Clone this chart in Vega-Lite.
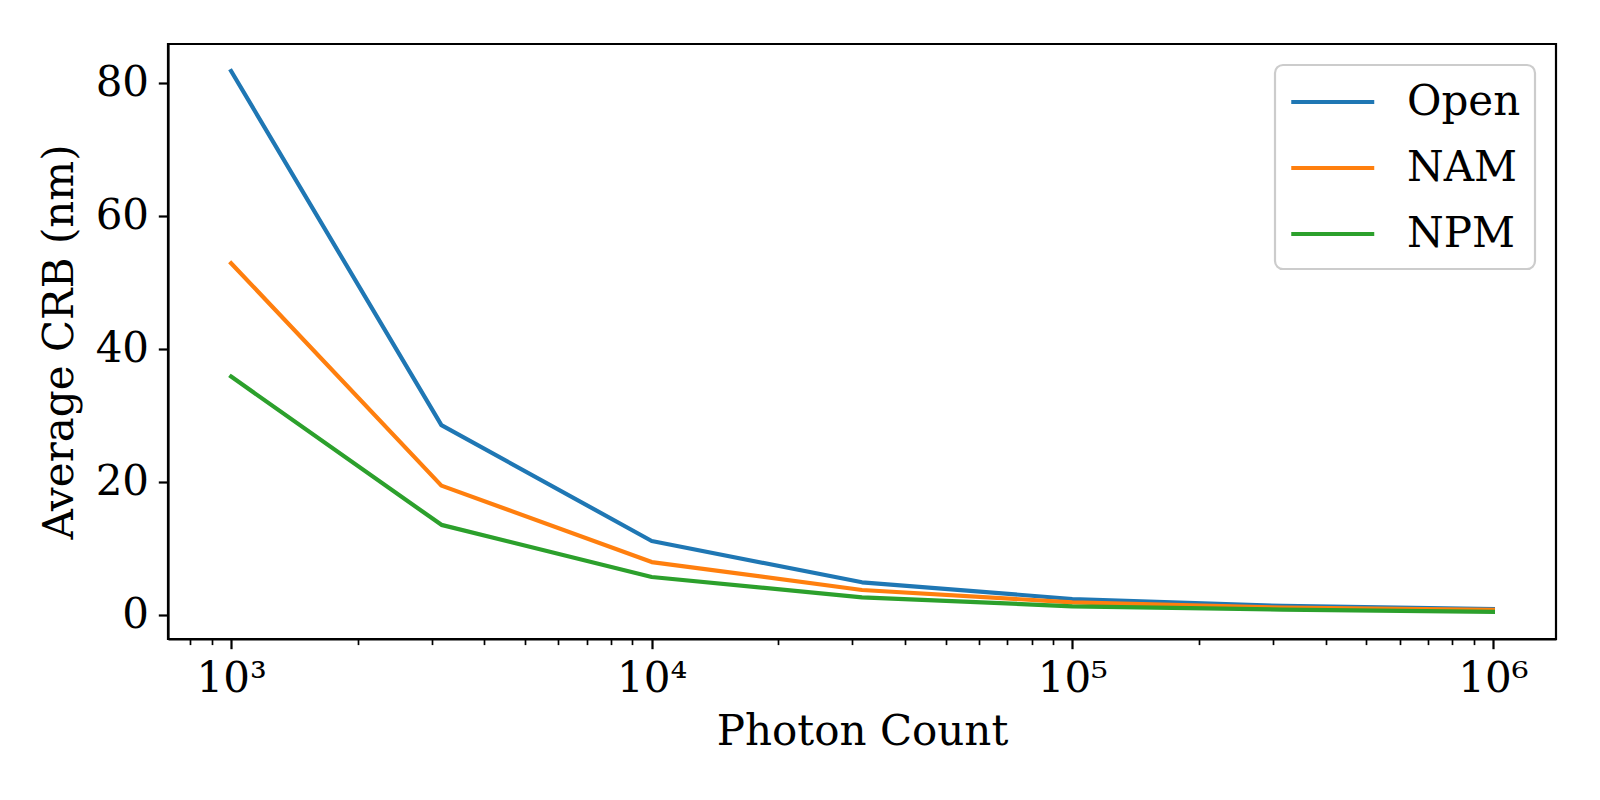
{
  "$schema": "https://vega.github.io/schema/vega-lite/v6.json",
  "description": "Average CRB against photon count for three methods",
  "autosize": "none",
  "width": 1388,
  "height": 595,
  "padding": {"left": 168, "top": 44, "right": 44, "bottom": 161},
  "background": "white",
  "data": {
    "values": [
      {"photons": 1000, "method": "Open", "crb": 81.75},
      {"photons": 3162.28, "method": "Open", "crb": 28.5},
      {"photons": 10000, "method": "Open", "crb": 11.07},
      {"photons": 31622.8, "method": "Open", "crb": 4.86},
      {"photons": 100000, "method": "Open", "crb": 2.35},
      {"photons": 316228, "method": "Open", "crb": 1.3},
      {"photons": 1000000, "method": "Open", "crb": 0.85},
      {"photons": 1000, "method": "NAM", "crb": 52.85},
      {"photons": 3162.28, "method": "NAM", "crb": 19.4},
      {"photons": 10000, "method": "NAM", "crb": 7.9},
      {"photons": 31622.8, "method": "NAM", "crb": 3.7},
      {"photons": 100000, "method": "NAM", "crb": 1.85},
      {"photons": 316228, "method": "NAM", "crb": 1.05},
      {"photons": 1000000, "method": "NAM", "crb": 0.7},
      {"photons": 1000, "method": "NPM", "crb": 35.8},
      {"photons": 3162.28, "method": "NPM", "crb": 13.5},
      {"photons": 10000, "method": "NPM", "crb": 5.66},
      {"photons": 31622.8, "method": "NPM", "crb": 2.6},
      {"photons": 100000, "method": "NPM", "crb": 1.25},
      {"photons": 316228, "method": "NPM", "crb": 0.75},
      {"photons": 1000000, "method": "NPM", "crb": 0.4}
    ]
  },
  "mark": {"type": "line", "strokeWidth": 4.2, "strokeCap": "square", "strokeJoin": "round"},
  "encoding": {
    "x": {
      "field": "photons",
      "type": "quantitative",
      "title": "Photon Count",
      "scale": {"type": "log", "domain": [707.9, 1412538], "nice": false},
      "axis": {
        "values": [800, 900, 1000, 2000, 3000, 4000, 5000, 6000, 7000, 8000, 9000, 10000,
                   20000, 30000, 40000, 50000, 60000, 70000, 80000, 90000, 100000,
                   200000, 300000, 400000, 500000, 600000, 700000, 800000, 900000, 1000000],
        "labelExpr": "datum.value == 1000 ? '10³' : datum.value == 10000 ? '10⁴' : datum.value == 100000 ? '10⁵' : datum.value == 1000000 ? '10⁶' : ''",
        "tickSize": {"condition": {"test": "datum.value == 1000 || datum.value == 10000 || datum.value == 100000 || datum.value == 1000000", "value": 9.7}, "value": 5.6},
        "tickWidth": {"condition": {"test": "datum.value == 1000 || datum.value == 10000 || datum.value == 100000 || datum.value == 1000000", "value": 2.2}, "value": 1.7},
        "titlePadding": 12
      }
    },
    "y": {
      "field": "crb",
      "type": "quantitative",
      "title": "Average CRB (nm)",
      "scale": {"domain": [-3.67, 85.82], "nice": false, "zero": false},
      "axis": {"values": [0, 20, 40, 60, 80], "tickSize": 9.7, "tickWidth": 2.2, "titlePadding": 14}
    },
    "color": {
      "field": "method",
      "type": "nominal",
      "sort": ["Open", "NAM", "NPM"],
      "scale": {"domain": ["Open", "NAM", "NPM"], "range": ["#1f77b4", "#ff7f0e", "#2ca02c"]},
      "legend": {"title": null}
    }
  },
  "config": {
    "view": {"stroke": "black", "strokeWidth": 2.2},
    "axis": {
      "grid": false,
      "domainColor": "black",
      "domainWidth": 2.2,
      "tickColor": "black",
      "labelColor": "black",
      "labelFont": "DejaVu Serif",
      "labelFontSize": 42,
      "labelPadding": 9.7,
      "titleFont": "DejaVu Serif",
      "titleFontSize": 42,
      "titleFontWeight": "normal",
      "titleColor": "black"
    },
    "legend": {
      "orient": "top-right",
      "offset": 21,
      "padding": 14,
      "fillColor": "rgba(255,255,255,0.8)",
      "strokeColor": "#cccccc",
      "strokeWidth": 2.2,
      "cornerRadius": 8,
      "symbolType": "M-1,0H3",
      "symbolSize": 1722,
      "symbolStrokeWidth": 4.2,
      "labelOffset": 72,
      "rowPadding": 22,
      "labelFont": "DejaVu Serif",
      "labelFontSize": 42,
      "labelColor": "black"
    }
  }
}
